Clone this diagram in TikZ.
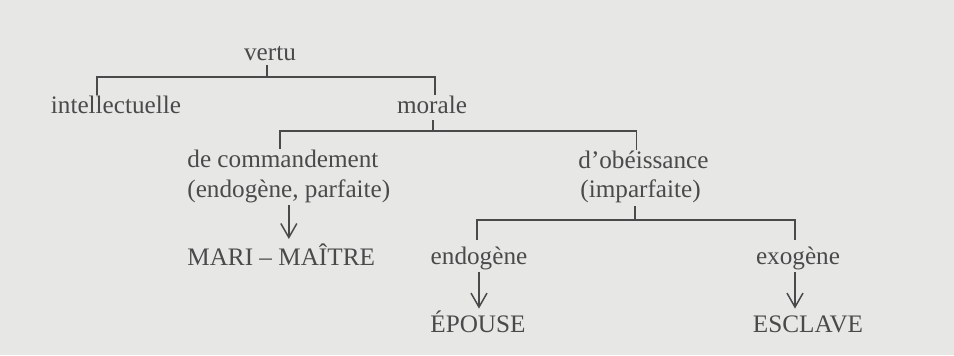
\documentclass[tikz,border=0pt]{standalone}
\usepackage{fontspec}
\setmainfont{Liberation Serif}
\usepackage{xcolor}
\usepackage{tikz}
\usetikzlibrary{arrows.meta}
\definecolor{vpaper}{HTML}{E7E7E5}
\definecolor{vink}{HTML}{4A4A4A}

\begin{document}
\begin{tikzpicture}[x=0.5pt,y=-0.5pt,
    lab/.style={inner sep=0pt,text=vink,text height=0.9em,text depth=0.25em,
      font=\fontsize{12.6}{15}\selectfont},
    brk/.style={draw=vink,line width=0.75pt},
    arr/.style={brk,-{Straight Barb[length=7pt,width=8pt]},shorten <=1.5pt,shorten >=2.5pt}]
  \fill[vpaper] (0,0) rectangle (954,355);
  % tree of virtues
  \node[lab,anchor=base] (vertu) at (270,60) {vertu};
  \node[lab,anchor=base] (intel) at (116,113) {intellectuelle};
  \node[lab,anchor=base] (morale) at (432,113) {morale};
  \node[lab,anchor=base west] (cmd) at (187,167) {de commandement};
  \node[lab,anchor=base west] (cmdnote) at (187,197) {(endogène, parfaite)};
  \node[lab,anchor=base west] (obe) at (578,168) {d’obéissance};
  \node[lab,anchor=base west] (obenote) at (580,197) {(imparfaite)};
  \node[lab,anchor=base west] (mari) at (187,265) {MARI – MAÎTRE};
  \foreach \n/\x/\y/\t in {endo/479/264/endogène, exo/798/264/exogène,
      epouse/478/332/ÉPOUSE, esclave/808/332/ESCLAVE}{
    \node[lab,anchor=base] (\n) at (\x,\y) {\t};
  }
  \coordinate (j1) at (267,77);
  \coordinate (j2) at (433,131);
  \coordinate (j3) at (635,220);
  % brackets
  \draw[brk] (vertu.south -| j1) -- (j1);
  \draw[brk] ([xshift=-9.5pt]intel.north) |- (j1) -| ([xshift=1.5pt]morale.north);
  \draw[brk,shorten <=1pt] (morale.south -| j2) -- (j2);
  \draw[brk] ([xshift=-1.5pt]cmd.north) |- (j2) -| ([xshift=-3.5pt]obe.north);
  \draw[brk,shorten <=2pt] (obenote.south -| j3) -- (j3);
  \draw[brk,shorten <=3pt,shorten >=3pt] ([xshift=-1pt]endo.north) |- (j3) -| ([xshift=-1.5pt]exo.north);
  % arrows
  \draw[arr,shorten >=3.8pt] (cmdnote.south) -- (cmdnote.south |- mari.north);
  \draw[arr] (endo.south) -- (endo.south |- epouse.north);
  \draw[arr] ([xshift=-1.5pt]exo.south) -- ([xshift=-1.5pt]exo.south |- esclave.north);
\end{tikzpicture}
\end{document}
